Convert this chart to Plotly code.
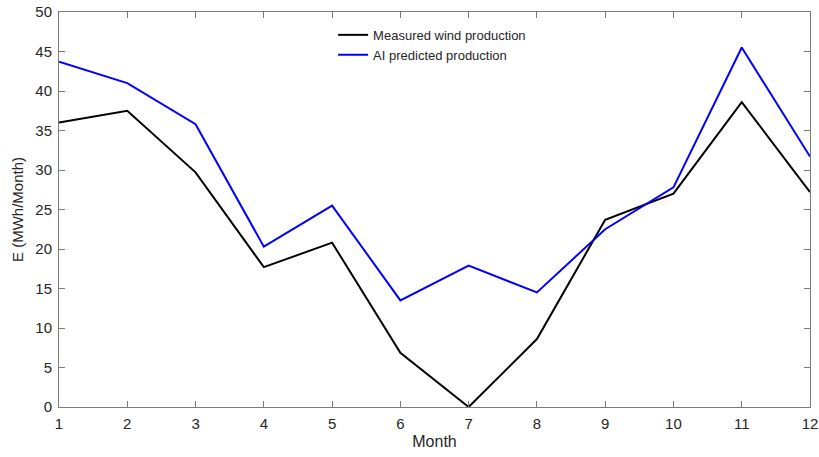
import plotly.graph_objects as go

months = list(range(1, 13))
measured = [36.0, 37.5, 29.7, 17.7, 20.8, 6.85, 0.0, 8.6, 23.7, 27.0, 38.6, 27.2]
predicted = [43.7, 41.0, 35.8, 20.3, 25.5, 13.5, 17.9, 14.5, 22.5, 27.8, 45.5, 31.7]

fig = go.Figure()
fig.add_trace(go.Scatter(x=months, y=measured, mode="lines", name="Measured wind production",
                         line=dict(color="black", width=2)))
fig.add_trace(go.Scatter(x=months, y=predicted, mode="lines", name="AI predicted production",
                         line=dict(color="#0000ff", width=2)))

axis_common = dict(showgrid=False, zeroline=False, showline=True, linecolor="#7a7a7a", linewidth=1,
                   ticks="inside", ticklen=6, tickcolor="#7a7a7a", mirror="ticks", automargin=False,
                   tickfont=dict(family="Liberation Sans, Arial, sans-serif", size=15, color="#262626"))
fig.update_layout(
    width=819, height=457,
    margin=dict(l=59, r=9, t=12, b=50),
    paper_bgcolor="white", plot_bgcolor="white",
    font=dict(family="Liberation Sans, Arial, sans-serif", color="#262626"),
    xaxis=dict(range=[1, 12], tickmode="array", tickvals=months, ticklabelstandoff=3,
               title=dict(text="Month", font=dict(size=16), standoff=4), **axis_common),
    yaxis=dict(range=[0, 50], tickmode="array", tickvals=list(range(0, 51, 5)), ticklabelstandoff=3,
               title=dict(text="E (MWh/Month)", font=dict(size=15), standoff=8), **axis_common),
    legend=dict(x=0.365, y=0.98, xanchor="left", yanchor="top", bgcolor="rgba(0,0,0,0)",
                font=dict(size=13, color="#262626"), itemwidth=30, tracegroupgap=0),
    showlegend=True,
)
fig.write_html("out.html")
